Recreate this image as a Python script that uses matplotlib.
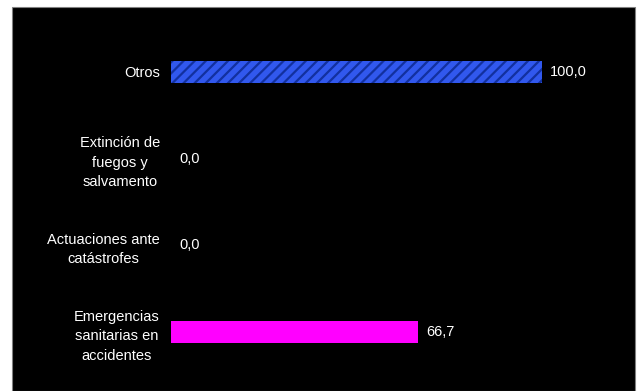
import matplotlib.pyplot as plt
from matplotlib.patches import Rectangle
import numpy as np

categories = ['Otros', 'Extinción de\nfuegos y\nsalvamento', 'Actuaciones ante\ncatástrofes',
              'Emergencias\nsanitarias en\naccidentes']
values = [100.0, 0.0, 0.0, 66.7]
labels = ['100,0', '0,0', '0,0', '66,7']

plt.rcParams['font.family'] = ['Liberation Sans', 'DejaVu Sans']
plt.rcParams['hatch.linewidth'] = 1.6

W, H = 637, 391
fig = plt.figure(figsize=(W / 100, H / 100), dpi=100, facecolor='white')
fig.patches.append(Rectangle((12 / W, 0), (635 - 12) / W, (391 - 7) / H, transform=fig.transFigure,
                             facecolor='black', edgecolor='#808080', linewidth=0.8, zorder=-10))

ax = fig.add_axes([171 / W, 1 - 375.5 / H, (616 - 171) / W, (375.5 - 28.5) / H])
ax.set_facecolor('black')
ax.patch.set_alpha(0)

y = np.arange(len(categories))
bars = ax.barh(y, values, height=0.26, color=['#3158ee', 'none', 'none', '#ff00ff'])
bars[0].set_hatch('///')
bars[0].set_edgecolor('#12309f')
bars[0].set_linewidth(0)

for yi, v, lab in zip(y, values, labels):
    ax.text(v + 2.2, yi, lab, color='white', fontsize=10.5, va='center', ha='left')

ax.set_xlim(0, 120)
ax.set_ylim(3.5, -0.5)
ax.set_yticks(y)
ax.set_yticklabels(categories, color='white', fontsize=10.5, multialignment='center', linespacing=1.5)
ax.tick_params(axis='y', length=0, pad=8)
ax.set_xticks([])
for s in ax.spines.values():
    s.set_visible(False)

fig.savefig('out.png', dpi=100, facecolor='white')
